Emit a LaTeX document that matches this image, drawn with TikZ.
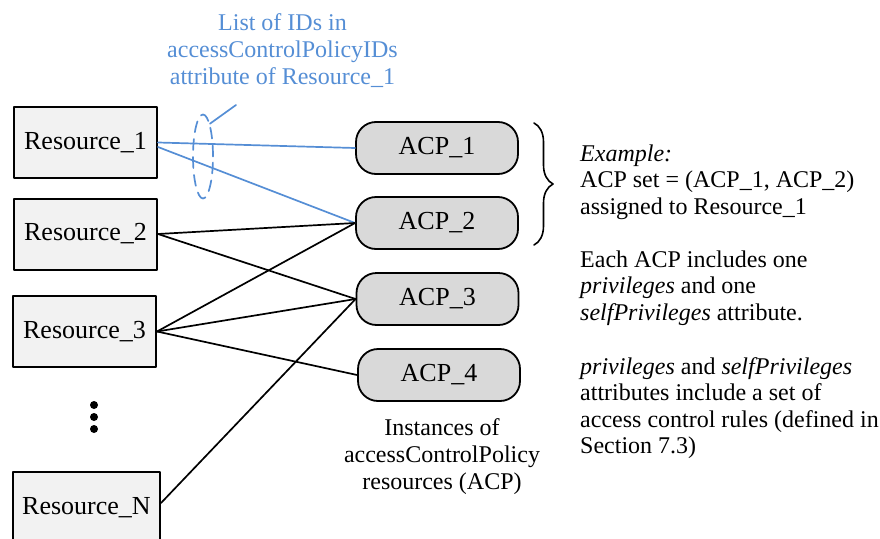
\documentclass[tikz,border=0pt]{standalone}
\usepackage{fontspec}
\setmainfont{Liberation Serif}
\usepackage{tikz}
\usetikzlibrary{shapes.geometric}
\usetikzlibrary{decorations.pathreplacing}
\definecolor{idblue}{RGB}{85,142,213}
\definecolor{resgray}{RGB}{242,242,242}
\definecolor{acpgray}{RGB}{217,217,217}

\begin{document}
\begin{tikzpicture}[line cap=round,line join=round, x=1pt,y=-1pt,
  res/.style={draw, line width=2pt, fill=resgray, minimum height=71pt, inner sep=0pt, font=\fontsize{26}{30}\selectfont},
  acp/.style={draw, line width=1.8pt, fill=acpgray, rounded corners=20pt, minimum width=162pt, minimum height=52pt, inner sep=0pt, font=\fontsize{26}{30}\selectfont},
  note/.style={align=left, inner sep=0pt, font=\fontsize{24}{26.5}\selectfont},
  link/.style={line width=1.7pt}]
\useasboundingbox (0,0) rectangle (880,538);
\clip (0,0) rectangle (880,538);
\node (r1) [res, minimum width=143pt] at (85.5,142.5) {Resource\_1};
\node (r2) [res, minimum width=143pt] at (85.5,234) {Resource\_2};
\node (r3) [res, minimum width=143pt] at (84.5,331.5) {Resource\_3};
\node (rn) [res, minimum width=147pt] at (86.5,507.5) {Resource\_N};
\node (acp1) [acp] at (437,148) {ACP\_1};
\node (acp2) [acp] at (437,223) {ACP\_2};
\node (acp3) [acp] at (437.5,299) {ACP\_3};
\node (acp4) [acp] at (439,375) {ACP\_4};
\fill (94,405) circle (4pt) (94,417) circle (4pt) (94,429) circle (4pt);
\draw [link, idblue] (r1.east) -- (acp1.west);
\draw [link, idblue] ([yshift=-4.5pt]r1.east) -- (acp2.west);
\draw [link] (r2.east) -- (acp2.west);
\draw [link] (r2.east) -- (acp3.west);
\draw [link] (r3.east) -- (acp2.west);
\draw [link] (r3.east) -- (acp3.west);
\draw [link] (r3.east) -- (acp4.west);
\draw [link] ([yshift=4.5pt]rn.east) -- (acp3.west);
\node (ids) [ellipse, draw=idblue, line width=1.7pt, dash pattern=on 11pt off 7pt, minimum width=20pt, minimum height=84pt, inner sep=0pt] at (203,156.5) {};
\node (idlabel) [align=center, inner sep=0pt, text=idblue, font=\fontsize{24}{27}\selectfont] at (282.5,51) {List of IDs in\\accessControlPolicyIDs\\attribute of Resource\_1};
\coordinate (idtail) at (236,105);
\draw [line width=1.7pt, idblue] (idtail) -- (ids.78);
\coordinate (bracetop) at (534,123);
\coordinate (bracebot) at (534,245);
\draw [line width=1.6pt, decorate, decoration={brace, amplitude=19pt}] (bracetop) -- (bracebot);
\node (example) [note, anchor=west] at (580,182) {\textit{Example:}\\ACP set = (ACP\_1, ACP\_2)\\assigned to Resource\_1};
\node (eachacp) [note, anchor=west] at (580,288) {Each ACP includes one\\\textit{privileges} and one\\\textit{selfPrivileges} attribute.};
\node (rules) [note, anchor=west] at (580,408) {\textit{privileges} and \textit{selfPrivileges}\\attributes include a set of\\access control rules (defined in\\Section 7.3)};
\node (instances) [align=center, inner sep=0pt, font=\fontsize{24}{27}\selectfont] at (442,457) {Instances of\\accessControlPolicy\\resources (ACP)};
\end{tikzpicture}
\end{document}
